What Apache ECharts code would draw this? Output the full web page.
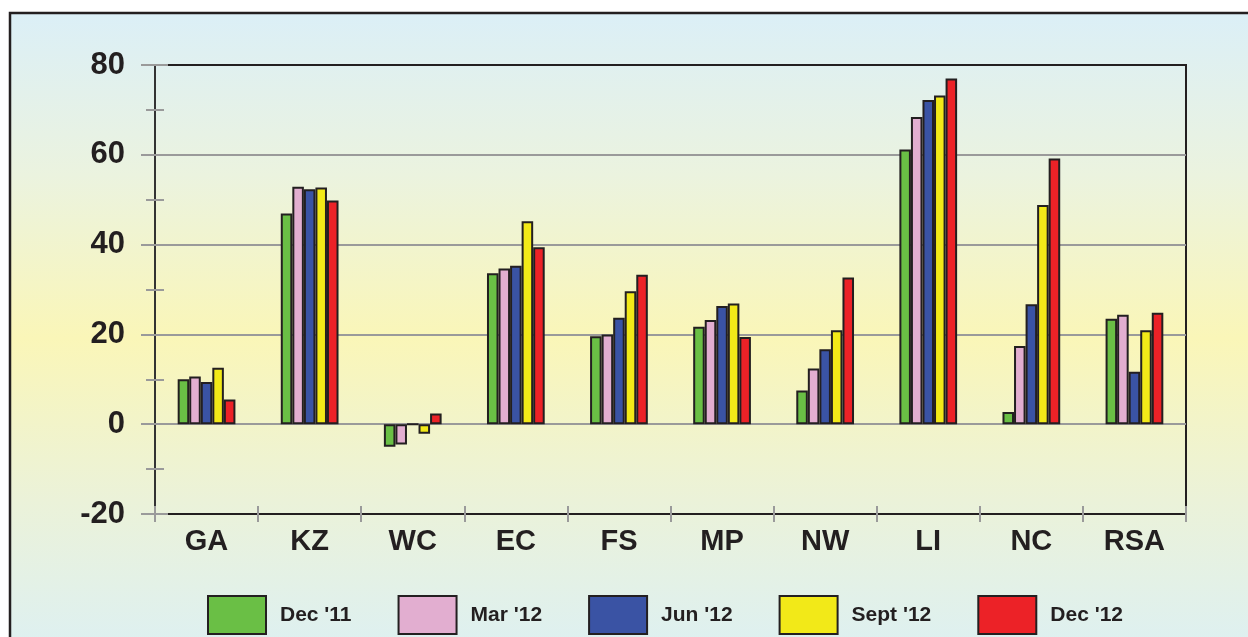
<!DOCTYPE html>
<html>
<head>
<meta charset="utf-8">
<title>Chart</title>
<script src="https://cdn.jsdelivr.net/npm/echarts@6/dist/echarts.min.js"></script>
<style>
    html, body {
        margin: 0;
        padding: 0;
        background: #fff;
    }
    #chart {
        width: 1248px;
        height: 637px;
    }
</style>
</head>
<body>
<div id="chart"></div>
<script>
// categories on the x axis
var regions = ['GA', 'KZ', 'WC', 'EC', 'FS', 'MP', 'NW', 'LI', 'NC', 'RSA'];

// one array per quarter
var dec11 = [10.0, 46.9, -5.0, 33.6, 19.6, 21.7, 7.5, 61.2, 2.7, 23.5];
var mar12 = [10.6, 52.9, -4.5, 34.7, 20.0, 23.2, 12.4, 68.4, 17.4, 24.4];
var jun12 = [9.4, 52.3, 0.0, 35.3, 23.7, 26.3, 16.7, 72.2, 26.7, 11.7];
var sep12 = [12.6, 52.7, -2.1, 45.2, 29.6, 26.9, 20.9, 73.2, 48.8, 20.9];
var dec12 = [5.5, 49.8, 2.4, 39.4, 33.3, 19.4, 32.7, 77.0, 59.2, 24.8];

var seriesNames = ["Dec '11", "Mar '12", "Jun '12", "Sept '12", "Dec '12"];
var seriesData = [dec11, mar12, jun12, sep12, dec12];

// y axis range
var yMin = -20;
var yMax = 80;
var yStep = 20;

var colors = ['#6abf45', '#e2aed0', '#3a53a4', '#f2e918', '#ec2227'];
var ink = '#231f20';
var tickGray = '#9a9a9a';
var narrow = "'Liberation Sans Narrow', 'Liberation Sans', Arial, sans-serif";
var wide = "'Liberation Sans', Arial, sans-serif";

var myChart = echarts.init(document.getElementById('chart'));

var series = seriesNames.map(function (name, i) {
    return {
        name: name,
        type: 'bar',
        data: seriesData[i],
        barGap: '0%',
        barCategoryGap: '44%',
        itemStyle: {
            color: colors[i],
            borderColor: ink,
            borderWidth: 2
        }
    };
});

var option = {
    animation: false,
    color: colors,
    graphic: [{
        type: 'rect',
        z: -10,
        silent: true,
        shape: { x: 10, y: 13, width: 1260, height: 650 },
        style: {
            fill: new echarts.graphic.LinearGradient(0, 0, 0, 1, [
                { offset: 0, color: '#dbeff7' },
                { offset: 0.25, color: '#ebf3df' },
                { offset: 0.5, color: '#faf6b8' },
                { offset: 0.75, color: '#ebf2d9' },
                { offset: 1, color: '#dcf0f4' }
            ]),
            stroke: ink,
            lineWidth: 2.5
        }
    }],
    grid: {
        left: 155,
        right: 62,
        top: 65,
        bottom: 123,
        show: true,
        backgroundColor: 'transparent',
        borderColor: ink,
        borderWidth: 2
    },
    legend: {
        left: 207,
        top: 595,
        padding: 0,
        itemWidth: 58,
        itemHeight: 38,
        itemGap: 46,
        icon: 'rect',
        selectedMode: false,
        textStyle: {
            fontFamily: narrow,
            fontWeight: 'bold',
            fontSize: 21,
            color: ink,
            padding: [0, 0, 0, 9]
        }
    },
    xAxis: [{
        type: 'category',
        data: regions,
        axisLine: { show: true, onZero: false, lineStyle: { color: ink, width: 2 } },
        axisTick: { show: true, length: 8, lineStyle: { color: tickGray, width: 2 } },
        axisLabel: {
            margin: 13,
            fontFamily: wide,
            fontWeight: 'bold',
            fontSize: 29,
            color: ink
        }
    }, {
        type: 'category',
        data: regions,
        position: 'bottom',
        axisLine: { show: false, onZero: false },
        axisTick: { show: true, inside: true, length: 8, lineStyle: { color: tickGray, width: 2 } },
        axisLabel: { show: false }
    }],
    yAxis: [{
        type: 'value',
        min: yMin,
        max: yMax,
        interval: yStep,
        axisLine: { show: true, onZero: false, lineStyle: { color: '#333', width: 2 } },
        axisTick: { show: true, length: 14, lineStyle: { color: tickGray, width: 2 } },
        minorTick: { show: true, splitNumber: 2, length: 9, lineStyle: { color: tickGray, width: 2 } },
        splitLine: { show: true, lineStyle: { color: [ink, tickGray, tickGray, tickGray, tickGray, ink], width: 2 } },
        axisLabel: {
            margin: 30,
            fontFamily: narrow,
            fontWeight: 'bold',
            fontSize: 31,
            color: ink
        }
    }, {
        type: 'value',
        min: yMin,
        max: yMax,
        interval: yStep,
        position: 'left',
        axisLine: { show: false, onZero: false },
        axisTick: { show: true, inside: true, length: 13, lineStyle: { color: tickGray, width: 2 } },
        minorTick: { show: true, splitNumber: 2, length: 9, lineStyle: { color: tickGray, width: 2 } },
        splitLine: { show: false },
        axisLabel: { show: false }
    }],
    series: series
};

myChart.setOption(option);
</script>
</body>
</html>
